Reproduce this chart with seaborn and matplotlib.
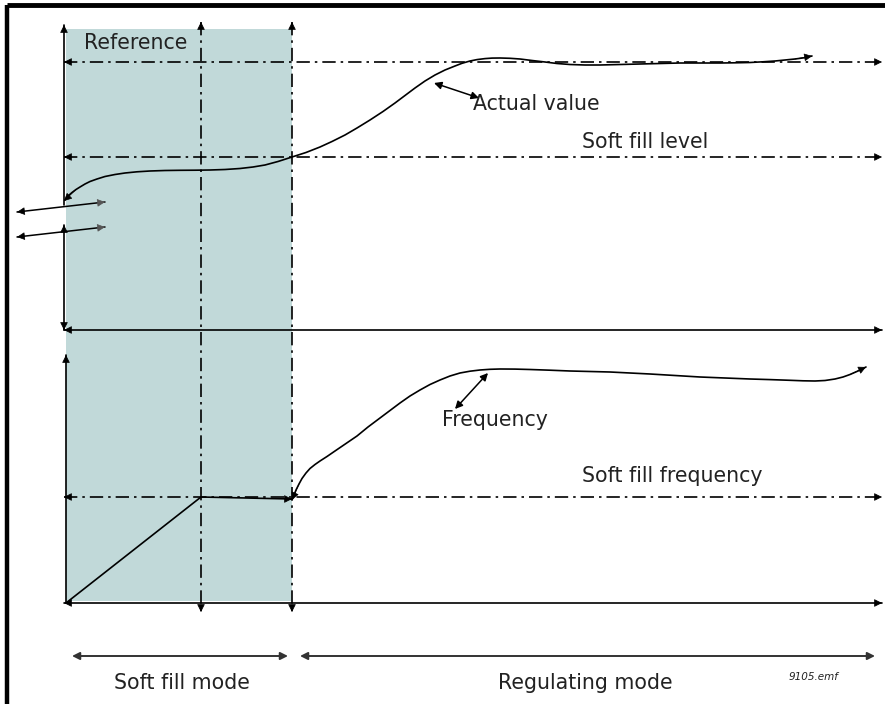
import numpy as np
import pandas as pd
import seaborn as sns
import matplotlib.pyplot as plt

sns.set_theme(style="white")
plt.rcParams['font.family'] = ['DejaVu Sans']

# diagram coordinates are in picture pixels (y grows downwards)
# actual value curve (top panel)
actual_x = [65, 68, 72, 76, 80, 85, 90, 97, 105, 115, 125, 137, 150, 165, 180, 195, 210, 225,
            240, 253, 265, 278, 292, 306, 320, 332, 345, 357, 370, 383, 395, 405, 415, 425,
            435, 445, 455, 462, 470, 477, 485, 492, 500, 510, 520, 532, 545, 557, 570, 585,
            600, 620, 640, 660, 680, 700, 720, 735, 750, 763, 775, 785, 795, 804, 812]
actual_y = [200, 196, 192.5, 189.5, 187, 184, 181.5, 179, 176.5, 174.5, 173, 171.8, 171, 170.5,
            170.3, 170.2, 170, 169.5, 168.5, 167, 165, 161.5, 157, 152.5, 147, 141.5, 135,
            128, 120, 111.5, 103, 95.5, 88, 81, 75, 70, 66, 63.3, 61, 59.6, 58.6, 58.1, 58,
            58.3, 59, 60.5, 62, 63.5, 64.5, 65, 65, 64.5, 64, 63.5, 63, 63, 63, 62.8, 62.5,
            61.8, 61, 60, 59, 57.8, 56]

# frequency curve (bottom panel, regulating mode)
freq_x = [292, 294, 296, 299, 302, 306, 310, 315, 320, 327, 335, 346, 357, 368, 380, 390,
          400, 410, 420, 430, 440, 450, 460, 470, 480, 490, 500, 515, 530, 550, 570, 590,
          610, 630, 650, 675, 700, 725, 750, 770, 790, 803, 815, 825, 835, 843, 850, 858, 866]
freq_y = [500, 495, 490, 484, 478.5, 473, 468.5, 464.5, 461, 456.5, 451, 443.5, 436, 427,
          418, 410.5, 403, 396, 390, 384.5, 380, 376, 373, 371.2, 370, 369.3, 369, 369.1,
          369.5, 370.2, 371, 371.5, 372, 373, 374, 375.5, 377, 378, 379, 379.6, 380.3, 380.8,
          381, 380.5, 379, 377, 374.5, 371, 367]

# soft fill ramp of frequency
ramp_x = [66, 201, 292]
ramp_y = [603, 497, 499]

# levels
reference_y = 62
soft_level_y = 157
soft_freq_y = 497
top_axis_y = 330
bottom_axis_y = 603
phase_x = [201, 292]

fig = plt.figure(figsize=(8.85, 7.04), dpi=100)
ax = fig.add_axes([0, 0, 1, 1])

k = 'black'
dd = (0, (8, 3, 1.5, 3))
lw = 1.2


def head(tip, frm, color=k, ms=12):
    ax.annotate('', xy=tip, xytext=frm,
                arrowprops=dict(arrowstyle='-|>', lw=0.5, color=color,
                                mutation_scale=ms, shrinkA=0, shrinkB=0))


def hline(y, x0, x1, ls='-', left=True, right=True):
    ax.plot([x0, x1], [y, y], color=k, lw=lw, ls=ls)
    if left:
        head((x0, y), (x0 + 7, y))
    if right:
        head((x1, y), (x1 - 7, y))


def vline(x, y0, y1, ls='-', top=True, bottom=True):
    ax.plot([x, x], [y0, y1], color=k, lw=lw, ls=ls)
    if top:
        head((x, y0), (x, y0 + 7))
    if bottom:
        head((x, y1), (x, y1 - 7))


# frame
ax.plot([7, 885], [5, 5], color=k, lw=3.5, solid_capstyle='butt')
ax.plot([7, 7], [5, 704], color=k, lw=3.2, solid_capstyle='butt')

# soft fill mode shading
ax.fill_between([66, 292], 29, 601, color='#c1d9d9', lw=0, zorder=0)

# top panel
hline(reference_y, 64, 882, ls=dd)
hline(soft_level_y, 64, 882, ls=dd)
hline(top_axis_y, 64, 882)
vline(64, 25, 205, bottom=False)
vline(64, 225, 330)
# broken axis marks
for yl, yr in [(212, 202), (237, 227)]:
    ax.plot([17, 105], [yl, yr], color=k, lw=1.1)
    head((17, yl), (24, yl - 0.8))
    head((105, yr), (98, yr + 0.8), color='#555555')

# bottom panel
hline(soft_freq_y, 64, 882, ls=dd)
hline(bottom_axis_y, 64, 882)
vline(66, 355, 603, bottom=False)
for px in phase_x:
    vline(px, 22, 612, ls=dd)

# curves
curves = pd.DataFrame({'x': actual_x + freq_x + ramp_x,
                       'y': actual_y + freq_y + ramp_y,
                       'curve': ['actual'] * len(actual_x) + ['freq'] * len(freq_x)
                       + ['ramp'] * len(ramp_x)})
sns.lineplot(data=curves, x='x', y='y', units='curve', estimator=None, sort=False,
             color=k, lw=lw, ax=ax, legend=False)
ax.set_xlim(0, 885)
ax.set_ylim(704, 0)
ax.axis('off')
head((actual_x[0] - 1, actual_y[0] + 1), (actual_x[3], actual_y[3]))
head((actual_x[-1], actual_y[-1]), (actual_x[-3], actual_y[-3]))
head((freq_x[-1], freq_y[-1]), (freq_x[-3], freq_y[-3]))
head((freq_x[0], freq_y[0]), (freq_x[3], freq_y[3]))
head((ramp_x[-1], ramp_y[-1]), (ramp_x[-1] - 7, ramp_y[-1]))

# pointer arrows
for a, b in [((434, 83), (479, 98)), ((488, 373), (455, 409))]:
    ax.annotate('', xy=a, xytext=b,
                arrowprops=dict(arrowstyle='<|-|>', lw=1.1, color=k, mutation_scale=11,
                                shrinkA=0, shrinkB=0))

# mode arrows
for x0, x1 in [(72, 288), (300, 875)]:
    ax.annotate('', xy=(x0, 656), xytext=(x1, 656),
                arrowprops=dict(arrowstyle='<|-|>', lw=1.4, color='#333333',
                                mutation_scale=11, shrinkA=0, shrinkB=0))

fs = 14.8
tc = '#222222'
ax.text(84, 43, 'Reference', fontsize=fs, va='center', ha='left', color=tc)
ax.text(473, 104, 'Actual value', fontsize=fs, va='center', ha='left', color=tc)
ax.text(582, 142, 'Soft fill level', fontsize=fs, va='center', ha='left', color=tc)
ax.text(442, 420, 'Frequency', fontsize=fs, va='center', ha='left', color=tc)
ax.text(582, 476, 'Soft fill frequency', fontsize=fs, va='center', ha='left', color=tc)
ax.text(182, 683, 'Soft fill mode', fontsize=fs, va='center', ha='center', color=tc)
ax.text(585, 683, 'Regulating mode', fontsize=fs, va='center', ha='center', color=tc)
ax.text(813, 677, '9105.emf', fontsize=7.5, va='center', ha='center', style='italic',
        color=tc)

fig.savefig('out.png', dpi=100)
